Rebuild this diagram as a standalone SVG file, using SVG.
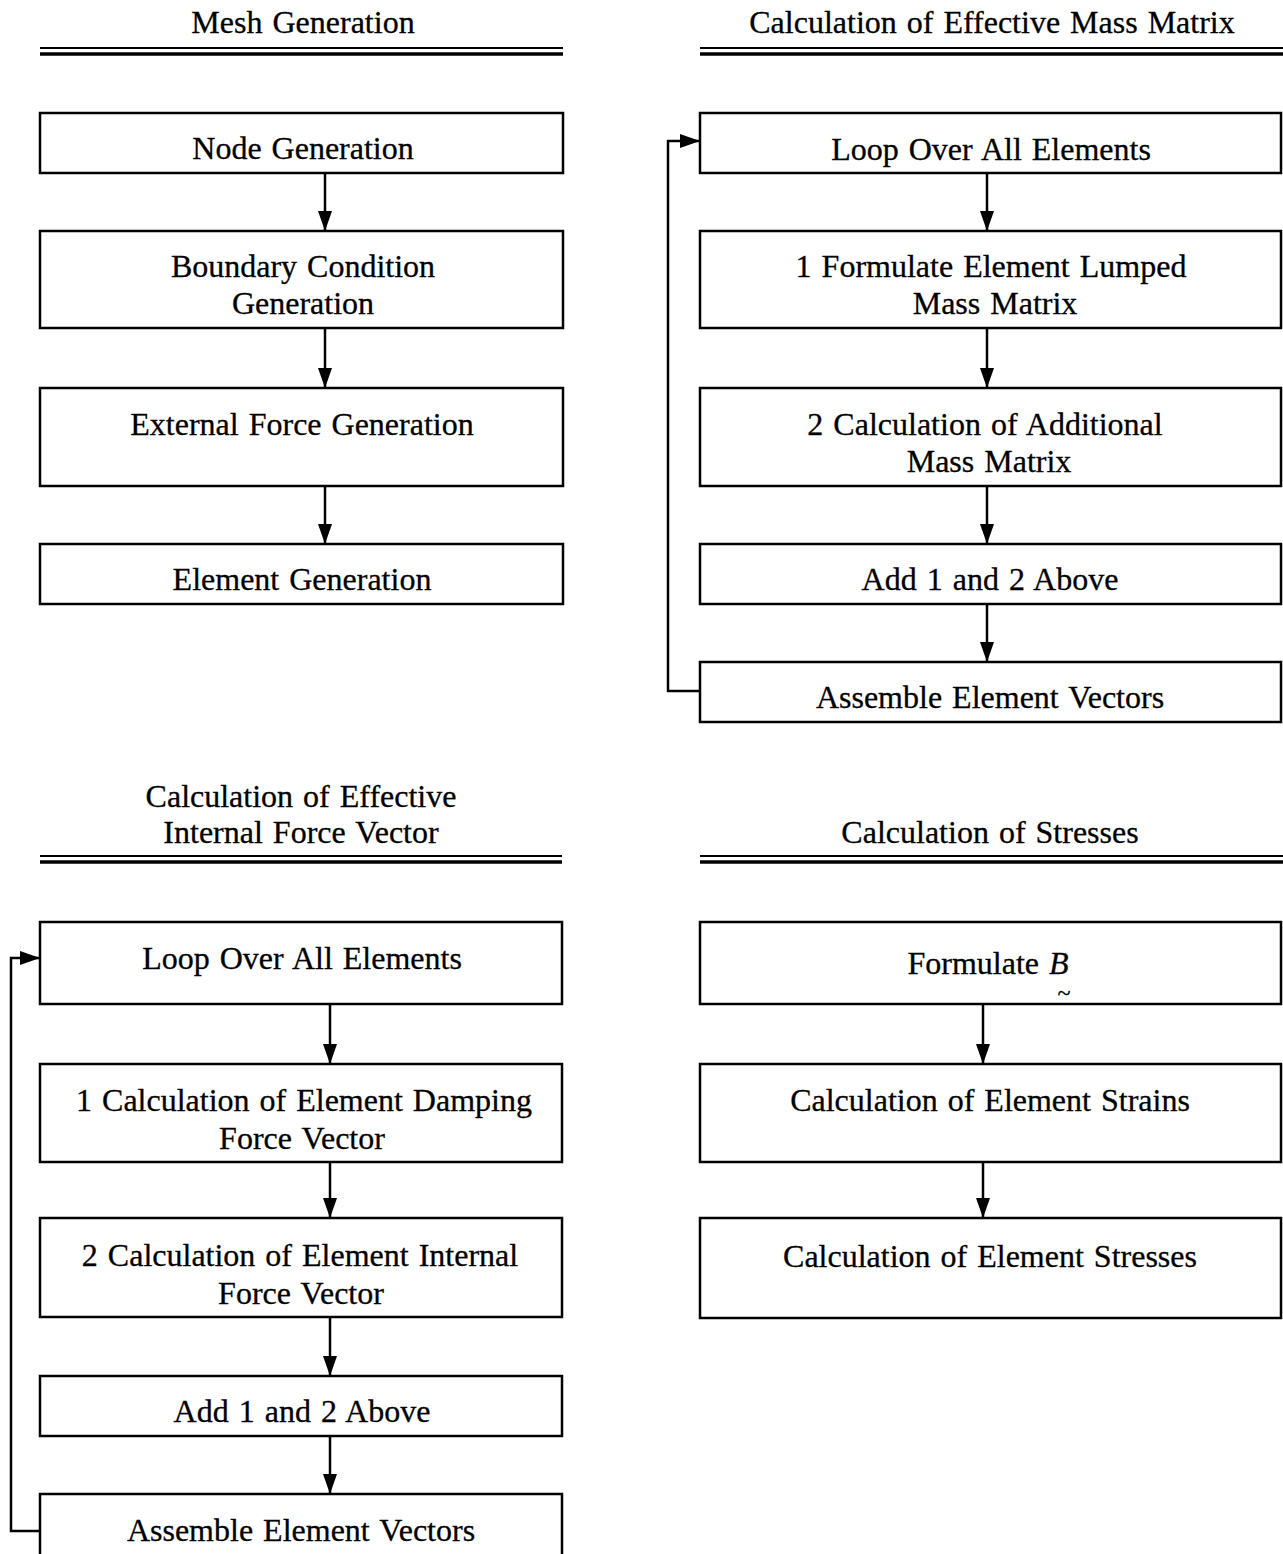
<svg xmlns="http://www.w3.org/2000/svg" width="1283" height="1554" viewBox="0 0 1283 1554">
  <style>
    .box { fill: #fff; stroke: #000; stroke-width: 2.5; }
    .t { font-family: "Liberation Serif", "Times New Roman", serif; font-size: 32px; fill: #000; stroke: #000; stroke-width: 0.3; text-anchor: middle; word-spacing: 2px; }
    .link { fill: none; stroke: #000; stroke-width: 2.5; }
    .rule1 { stroke: #000; stroke-width: 2; }
    .rule2 { stroke: #000; stroke-width: 3.5; }
  </style>
  <defs>
    <marker id="arrow" viewBox="0 0 20 14" refX="20" refY="7" markerWidth="20" markerHeight="14" markerUnits="userSpaceOnUse" orient="auto">
      <path d="M0,0 L20,7 L0,14 z" fill="#000"/>
    </marker>
  </defs>

  <rect width="1283" height="1554" fill="#fff"/>

  <!-- Section headings with double rules -->
  <g id="heading-mesh">
    <text class="t" x="303" y="33">Mesh Generation</text>
    <line class="rule1" x1="40" y1="48" x2="563" y2="48"/>
    <line class="rule2" x1="40" y1="54" x2="563" y2="54"/>
  </g>
  <g id="heading-mass">
    <text class="t" x="992" y="33">Calculation of Effective Mass Matrix</text>
    <line class="rule1" x1="700" y1="48" x2="1283" y2="48"/>
    <line class="rule2" x1="700" y1="54" x2="1283" y2="54"/>
  </g>
  <g id="heading-force">
    <text class="t" x="301" y="807">Calculation of Effective</text>
    <text class="t" x="301" y="843">Internal Force Vector</text>
    <line class="rule1" x1="40" y1="856" x2="562" y2="856"/>
    <line class="rule2" x1="40" y1="862" x2="562" y2="862"/>
  </g>
  <g id="heading-stress">
    <text class="t" x="990" y="843">Calculation of Stresses</text>
    <line class="rule1" x1="700" y1="856" x2="1283" y2="856"/>
    <line class="rule2" x1="700" y1="862" x2="1283" y2="862"/>
  </g>

  <!-- Mesh generation column -->
  <g id="node-generation">
    <rect class="box" x="40" y="113" width="523" height="60"/>
    <text class="t" x="303" y="159">Node Generation</text>
  </g>
  <g id="boundary-condition">
    <rect class="box" x="40" y="231" width="523" height="97"/>
    <text class="t" x="303" y="277">Boundary Condition</text>
    <text class="t" x="303" y="314">Generation</text>
  </g>
  <g id="external-force">
    <rect class="box" x="40" y="388" width="523" height="98"/>
    <text class="t" x="302" y="435">External Force Generation</text>
  </g>
  <g id="element-generation">
    <rect class="box" x="40" y="544" width="523" height="60"/>
    <text class="t" x="302" y="590">Element Generation</text>
  </g>

  <!-- Effective mass matrix column -->
  <g id="mass-loop">
    <rect class="box" x="700" y="113" width="581" height="60"/>
    <text class="t" x="991" y="160">Loop Over All Elements</text>
  </g>
  <g id="mass-lumped">
    <rect class="box" x="700" y="231" width="581" height="97"/>
    <text class="t" x="991" y="277">1 Formulate Element Lumped</text>
    <text class="t" x="995" y="314">Mass Matrix</text>
  </g>
  <g id="mass-additional">
    <rect class="box" x="700" y="388" width="581" height="98"/>
    <text class="t" x="985" y="435">2 Calculation of Additional</text>
    <text class="t" x="989" y="472">Mass Matrix</text>
  </g>
  <g id="mass-add">
    <rect class="box" x="700" y="544" width="581" height="60"/>
    <text class="t" x="990" y="590">Add 1 and 2 Above</text>
  </g>
  <g id="mass-assemble">
    <rect class="box" x="700" y="662" width="581" height="60"/>
    <text class="t" x="990" y="708">Assemble Element Vectors</text>
  </g>

  <!-- Effective internal force column -->
  <g id="force-loop">
    <rect class="box" x="40" y="922" width="522" height="82"/>
    <text class="t" x="302" y="969">Loop Over All Elements</text>
  </g>
  <g id="force-damping">
    <rect class="box" x="40" y="1064" width="522" height="98"/>
    <text class="t" x="304" y="1111">1 Calculation of Element Damping</text>
    <text class="t" x="302" y="1149">Force Vector</text>
  </g>
  <g id="force-internal">
    <rect class="box" x="40" y="1218" width="522" height="99"/>
    <text class="t" x="300" y="1266">2 Calculation of Element Internal</text>
    <text class="t" x="301" y="1304">Force Vector</text>
  </g>
  <g id="force-add">
    <rect class="box" x="40" y="1376" width="522" height="60"/>
    <text class="t" x="302" y="1422">Add 1 and 2 Above</text>
  </g>
  <g id="force-assemble">
    <rect class="box" x="40" y="1494" width="522" height="80"/>
    <text class="t" x="301" y="1541">Assemble Element Vectors</text>
  </g>

  <!-- Stresses column -->
  <g id="stress-b">
    <rect class="box" x="700" y="922" width="581" height="82"/>
    <text class="t" x="988" y="974">Formulate <tspan font-style="italic">B</tspan></text>
    <text class="t" x="1064" y="1001" style="font-size:24px">~</text>
  </g>
  <g id="stress-strains">
    <rect class="box" x="700" y="1064" width="581" height="98"/>
    <text class="t" x="990" y="1111">Calculation of Element Strains</text>
  </g>
  <g id="stress-stresses">
    <rect class="box" x="700" y="1218" width="581" height="100"/>
    <text class="t" x="990" y="1267">Calculation of Element Stresses</text>
  </g>

  <!-- Connectors -->
  <g id="connectors">
    <line class="link" x1="325" y1="173" x2="325" y2="231" marker-end="url(#arrow)"/>
    <line class="link" x1="325" y1="328" x2="325" y2="388" marker-end="url(#arrow)"/>
    <line class="link" x1="325" y1="486" x2="325" y2="544" marker-end="url(#arrow)"/>

    <line class="link" x1="987" y1="173" x2="987" y2="231" marker-end="url(#arrow)"/>
    <line class="link" x1="987" y1="328" x2="987" y2="388" marker-end="url(#arrow)"/>
    <line class="link" x1="987" y1="486" x2="987" y2="544" marker-end="url(#arrow)"/>
    <line class="link" x1="987" y1="604" x2="987" y2="662" marker-end="url(#arrow)"/>
    <polyline class="link" points="700,691 668,691 668,141 700,141" marker-end="url(#arrow)"/>

    <line class="link" x1="330" y1="1004" x2="330" y2="1064" marker-end="url(#arrow)"/>
    <line class="link" x1="330" y1="1162" x2="330" y2="1218" marker-end="url(#arrow)"/>
    <line class="link" x1="330" y1="1317" x2="330" y2="1376" marker-end="url(#arrow)"/>
    <line class="link" x1="330" y1="1436" x2="330" y2="1494" marker-end="url(#arrow)"/>
    <polyline class="link" points="40,1531 11,1531 11,958 40,958" marker-end="url(#arrow)"/>

    <line class="link" x1="983" y1="1004" x2="983" y2="1064" marker-end="url(#arrow)"/>
    <line class="link" x1="983" y1="1162" x2="983" y2="1218" marker-end="url(#arrow)"/>
  </g>
</svg>
